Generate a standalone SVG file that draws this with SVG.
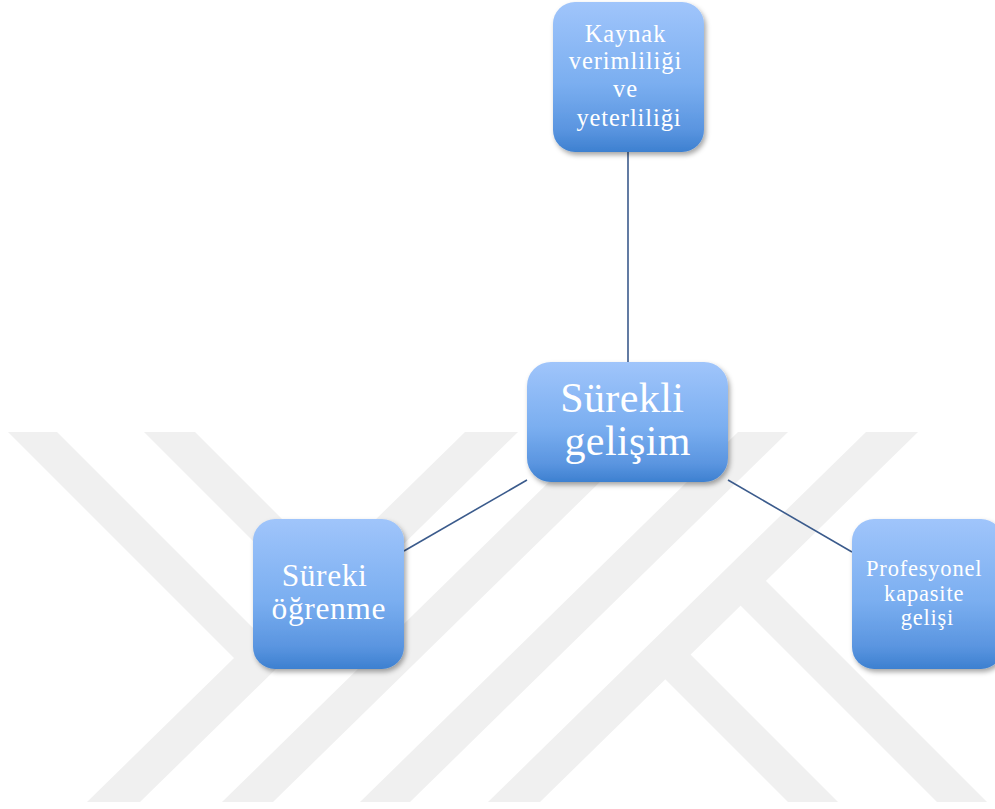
<svg xmlns="http://www.w3.org/2000/svg" width="995" height="809" viewBox="0 0 995 809">
  <style>
    .wm { fill: #f0f0f0; }
    .box { fill: url(#boxGrad); filter: url(#shadow); }
    .lbl { font-family: "Liberation Serif", "DejaVu Serif", serif; fill: #ffffff; text-anchor: middle; }
    .conn { stroke: #3b5b8c; stroke-width: 1.6; fill: none; }
  </style>
  <defs>
    <linearGradient id="boxGrad" x1="0" y1="0" x2="0" y2="1">
      <stop offset="0" stop-color="#a0c5fb"/>
      <stop offset="0.55" stop-color="#7aaef0"/>
      <stop offset="0.85" stop-color="#5a95e0"/>
      <stop offset="1" stop-color="#3d80d0"/>
    </linearGradient>
    <filter id="shadow" x="-10%" y="-10%" width="125%" height="130%">
      <feDropShadow dx="2" dy="3" stdDeviation="2.5" flood-color="#000000" flood-opacity="0.35"/>
    </filter>
  </defs>
  <rect x="0" y="0" width="995" height="809" fill="#ffffff"/>
  <g id="watermark">
    <polygon class="wm" points="87,802 140,802 518,432 465,432"/>
    <polygon class="wm" points="8,432 57,432 285,660 234,658"/>
    <polygon class="wm" points="222,802 273,802 651,432 600,432"/>
    <polygon class="wm" points="144,432 195,432 420,657 369,657"/>
    <polygon class="wm" points="360,802 410,802 788,432 738,432"/>
    <polygon class="wm" points="488,802 540,802 918,432 866,432"/>
    <polygon class="wm" points="655,669 681,645 838,802 788,802"/>
    <polygon class="wm" points="731,596 756,571 987,802 937,802"/>
  </g>
  <g id="connectors">
    <line class="conn" x1="628" y1="152" x2="628" y2="362"/>
    <line class="conn" x1="527" y1="480" x2="404" y2="551"/>
    <line class="conn" x1="728" y1="480" x2="852" y2="552"/>
  </g>
  <g id="node-kaynak">
    <rect class="box" x="553" y="2" width="151" height="150" rx="22" ry="22"/>
    <text class="lbl" font-size="24.5" letter-spacing="0.9">
      <tspan x="629" y="42">Kaynak</tspan>
      <tspan x="629" y="69">verimliliği</tspan>
      <tspan x="629" y="97">ve</tspan>
      <tspan x="629" y="126">yeterliliği</tspan>
    </text>
  </g>
  <g id="node-surekli-gelisim">
    <rect class="box" x="527" y="362" width="201" height="120" rx="24" ry="24"/>
    <text class="lbl" font-size="42" letter-spacing="0.4">
      <tspan x="627.7" y="412">Sürekli</tspan>
      <tspan x="627.7" y="455">gelişim</tspan>
    </text>
  </g>
  <g id="node-sureki-ogrenme">
    <rect class="box" x="253" y="519" width="151" height="150" rx="22" ry="22"/>
    <text class="lbl" font-size="31.5" letter-spacing="0.6">
      <tspan x="328.8" y="586">Süreki</tspan>
      <tspan x="328.8" y="619">öğrenme</tspan>
    </text>
  </g>
  <g id="node-profesyonel">
    <rect class="box" x="852" y="519" width="151" height="150" rx="22" ry="22"/>
    <text class="lbl" font-size="22.5" letter-spacing="0.8">
      <tspan x="927.4" y="576">Profesyonel</tspan>
      <tspan x="927.4" y="601">kapasite</tspan>
      <tspan x="927.4" y="625">gelişi</tspan>
    </text>
  </g>
</svg>
